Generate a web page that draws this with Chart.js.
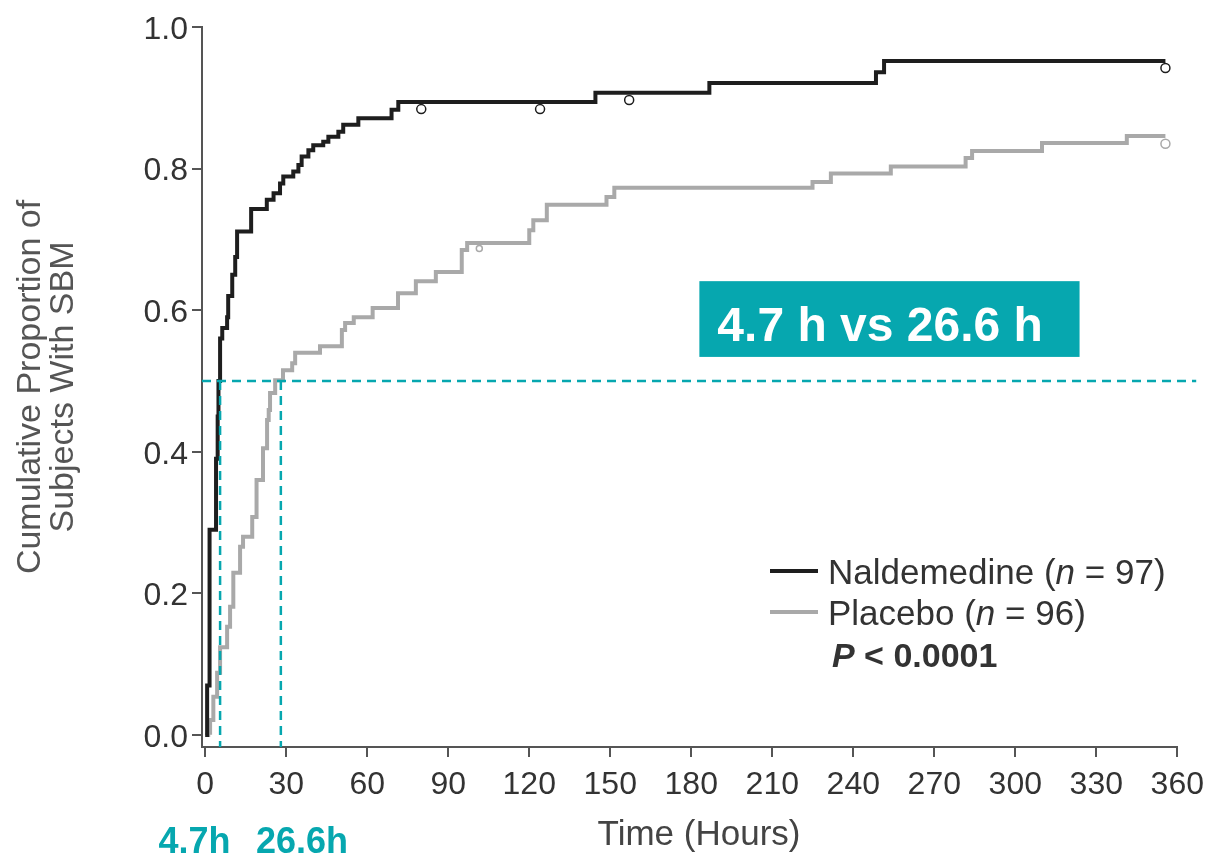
<!DOCTYPE html>
<html>
<head>
<meta charset="utf-8">
<title>Cumulative proportion of subjects with SBM</title>
<script src="https://cdn.jsdelivr.net/npm/chart.js@4.4.1/dist/chart.umd.min.js"></script>
<style>
  html, body { margin: 0; padding: 0; background: #fff; }
  #wrap { width: 1213px; height: 855px; }
</style>
</head>
<body>
<div id="wrap"><canvas id="km" width="1213" height="855"></canvas></div>
<script>
// Kaplan-Meier curves (time in hours, cumulative proportion)
const NALD_T = [0, 0.7, 1.6, 4.0, 4.6, 4.9, 5.5, 6.3, 8.1, 8.5, 10.0, 11.1, 11.8, 17.0, 22.8, 25.3, 27.7, 28.9, 32.6, 34.5,
                35.7, 38.2, 40.0, 43.7, 45.6, 49.3, 51.1, 56.7, 69.0, 71.5, 144.5, 186.7, 248.4, 251.4, 355.6];
const NALD_P = [0, 0.07, 0.29, 0.39, 0.45, 0.50, 0.56, 0.575, 0.59, 0.62, 0.65, 0.675, 0.711, 0.743, 0.756, 0.765, 0.779, 0.789, 0.796, 0.805,
                0.817, 0.826, 0.833, 0.838, 0.845, 0.852, 0.862, 0.871, 0.883, 0.894, 0.907, 0.921, 0.936, 0.952, 0.952];

const PLAC_T = [0, 1.1, 1.8, 3.0, 4.4, 5.5, 8.1, 9.2, 10.4, 12.9, 14.0, 17.4, 19.0, 21.4, 22.9, 23.5, 24.0, 25.9, 28.8, 32.2,
                33.3, 42.5, 50.6, 51.8, 55.0, 62.0, 71.4, 78.0, 85.4, 95.0, 97.0, 120.0, 121.5, 126.5, 148.6, 151.5, 224.9, 231.7, 253.9, 281.6,
                284.0, 309.9, 341.3, 355.6];
const PLAC_P = [0, 0.003, 0.021, 0.054, 0.088, 0.124, 0.153, 0.181, 0.229, 0.266, 0.28, 0.308, 0.36, 0.405, 0.445, 0.459, 0.483, 0.501, 0.515, 0.525,
                0.54, 0.549, 0.572, 0.582, 0.59, 0.603, 0.624, 0.641, 0.654, 0.685, 0.695, 0.713, 0.727, 0.749, 0.76, 0.773, 0.781, 0.793, 0.803, 0.815,
                0.825, 0.836, 0.846, 0.846];

// censored observations
const NALD_CENS_T = [80, 124, 157, 355.6];
const NALD_CENS_P = [0.884, 0.884, 0.897, 0.942];
const PLAC_CENS_T = [101.5, 355.6];
const PLAC_CENS_P = [0.687, 0.835];

const SERIES_NAMES = ['Naldemedine', 'Placebo'];
const SERIES_N = [97, 96];
const P_VALUE = '0.0001';

const X_TICKS = [0, 30, 60, 90, 120, 150, 180, 210, 240, 270, 300, 330, 360];
const Y_TICKS = [0, 0.2, 0.4, 0.6, 0.8, 1.0];

// median lines (as drawn) and their labels
const MEDIAN_LEVEL = 0.5;
const MEDIAN_LINE_X = [5.5, 28.0];
const MEDIAN_LABELS = ['4.7h', '26.6h'];
const BOX_TEXT = '4.7 h vs 26.6 h';
const X_TITLE = 'Time (Hours)';

const FONT = '"Liberation Sans", Arial, Helvetica, sans-serif';
const TEAL = '#06a7af';
const NALD_COLOR = '#1e1e1e';
const PLAC_COLOR = '#a9a9a9';
const TEXT_COLOR = '#333';

Chart.defaults.font.family = FONT;

const pts = (xs, ys) => xs.map((x, i) => ({ x, y: ys[i] }));

const annotationPlugin = {
  id: 'kmAnnotations',
  afterDraw(chart) {
    const { ctx, scales: { x, y } } = chart;
    ctx.save();

    // caja con las medianas
    const bx0 = x.getPixelForValue(183), bx1 = x.getPixelForValue(323.8);
    const by0 = y.getPixelForValue(0.641), by1 = y.getPixelForValue(0.534);
    ctx.fillStyle = TEAL;
    ctx.fillRect(bx0, by0, bx1 - bx0, by1 - by0);
    ctx.fillStyle = '#fff';
    ctx.font = 'bold 48px ' + FONT;
    ctx.textAlign = 'left';
    ctx.textBaseline = 'alphabetic';
    ctx.fillText(BOX_TEXT, bx0 + 18, by1 - 16);

    // titulo del eje x (desplazado como en la figura)
    ctx.fillStyle = '#444';
    ctx.font = '35px ' + FONT;
    ctx.textAlign = 'center';
    ctx.fillText(X_TITLE, 699, 845);

    // etiquetas bajo el eje
    ctx.fillStyle = TEAL;
    ctx.font = 'bold 36px ' + FONT;
    ctx.fillText(MEDIAN_LABELS[0], 194.5, 853);
    ctx.fillText(MEDIAN_LABELS[1], 302, 853);

    // leyenda
    const seg = (x0, yb, parts) => {
      ctx.textAlign = 'left';
      let cx = x0;
      parts.forEach(([txt, font]) => {
        ctx.font = font;
        ctx.fillText(txt, cx, yb);
        cx += ctx.measureText(txt).width;
      });
    };
    const reg = '35px ' + FONT, ital = 'italic 35px ' + FONT;
    ctx.lineWidth = 4;
    [[NALD_COLOR, 571, 584], [PLAC_COLOR, 612, 625]].forEach(([col, ly, tb], i) => {
      ctx.strokeStyle = col;
      ctx.beginPath();
      ctx.moveTo(770, ly);
      ctx.lineTo(818, ly);
      ctx.stroke();
      ctx.fillStyle = TEXT_COLOR;
      seg(828, tb, [[SERIES_NAMES[i] + ' (', reg], ['n', ital], [' = ' + SERIES_N[i] + ')', reg]]);
    });
    seg(832, 667, [['P', 'italic bold 34px ' + FONT], [' < ' + P_VALUE, 'bold 34px ' + FONT]]);

    ctx.restore();
  }
};

const dashStyle = { borderColor: TEAL, borderWidth: 2.5, borderDash: [9, 6], pointRadius: 0, fill: false, order: 0 };

new Chart(document.getElementById('km'), {
  type: 'line',
  data: {
    datasets: [
      Object.assign({ label: 'mediana', data: [{ x: -1.2, y: MEDIAN_LEVEL }, { x: 367, y: MEDIAN_LEVEL }], clip: false }, dashStyle),
      Object.assign({ label: 'mediana N', data: [{ x: MEDIAN_LINE_X[0], y: MEDIAN_LEVEL }, { x: MEDIAN_LINE_X[0], y: -0.017 }] }, dashStyle),
      Object.assign({ label: 'mediana P', data: [{ x: MEDIAN_LINE_X[1], y: MEDIAN_LEVEL }, { x: MEDIAN_LINE_X[1], y: -0.017 }] }, dashStyle),
      {
        label: 'Naldemedine censurados', type: 'scatter', data: pts(NALD_CENS_T, NALD_CENS_P),
        pointStyle: 'circle', pointRadius: 4.5, pointBackgroundColor: '#fff', pointBorderColor: NALD_COLOR, pointBorderWidth: 1.5, order: 1
      },
      {
        label: 'Placebo censurados', type: 'scatter', data: pts(PLAC_CENS_T, PLAC_CENS_P),
        pointStyle: 'circle', pointRadius: [3, 4.5], pointBackgroundColor: '#fff', pointBorderColor: PLAC_COLOR, pointBorderWidth: 1.5, order: 1
      },
      {
        label: SERIES_NAMES[0], data: pts(NALD_T, NALD_P), stepped: 'before',
        borderColor: NALD_COLOR, borderWidth: 4, pointRadius: 0, fill: false, order: 2
      },
      {
        label: SERIES_NAMES[1], data: pts(PLAC_T, PLAC_P), stepped: 'before',
        borderColor: PLAC_COLOR, borderWidth: 4, pointRadius: 0, fill: false, order: 3
      }
    ]
  },
  options: {
    responsive: false,
    animation: false,
    devicePixelRatio: 1,
    layout: { padding: { left: 0, top: 27, right: 34, bottom: 0 } },
    plugins: { legend: { display: false }, tooltip: { enabled: false } },
    scales: {
      x: {
        type: 'linear', min: -1.2, max: 360,
        afterBuildTicks: (s) => { s.ticks = X_TICKS.map(v => ({ value: v })); },
        afterFit: (s) => { s.height = 108; },
        grid: { drawOnChartArea: false, drawTicks: true, tickLength: 10, color: '#555', lineWidth: 2 },
        border: { display: true, color: '#555', width: 2 },
        ticks: { color: TEXT_COLOR, font: { size: 32 }, padding: 9, maxRotation: 0, autoSkip: false }
      },
      y: {
        type: 'linear', min: -0.017, max: 1.0,
        afterBuildTicks: (s) => { s.ticks = Y_TICKS.map(v => ({ value: v })); },
        afterFit: (s) => { s.width = 202; },
        grid: { drawOnChartArea: false, drawTicks: true, tickLength: 10, color: '#555', lineWidth: 2 },
        border: { display: true, color: '#555', width: 2 },
        ticks: { color: TEXT_COLOR, font: { size: 32 }, padding: 4, labelOffset: 3, callback: (v) => Number(v).toFixed(1) },
        title: {
          display: true, text: ['Cumulative Proportion of', 'Subjects With SBM'], color: '#555',
          font: { size: 34, lineHeight: 0.97 }, padding: { top: 14, bottom: 0 }
        }
      }
    }
  },
  plugins: [annotationPlugin]
});
</script>
</body>
</html>
